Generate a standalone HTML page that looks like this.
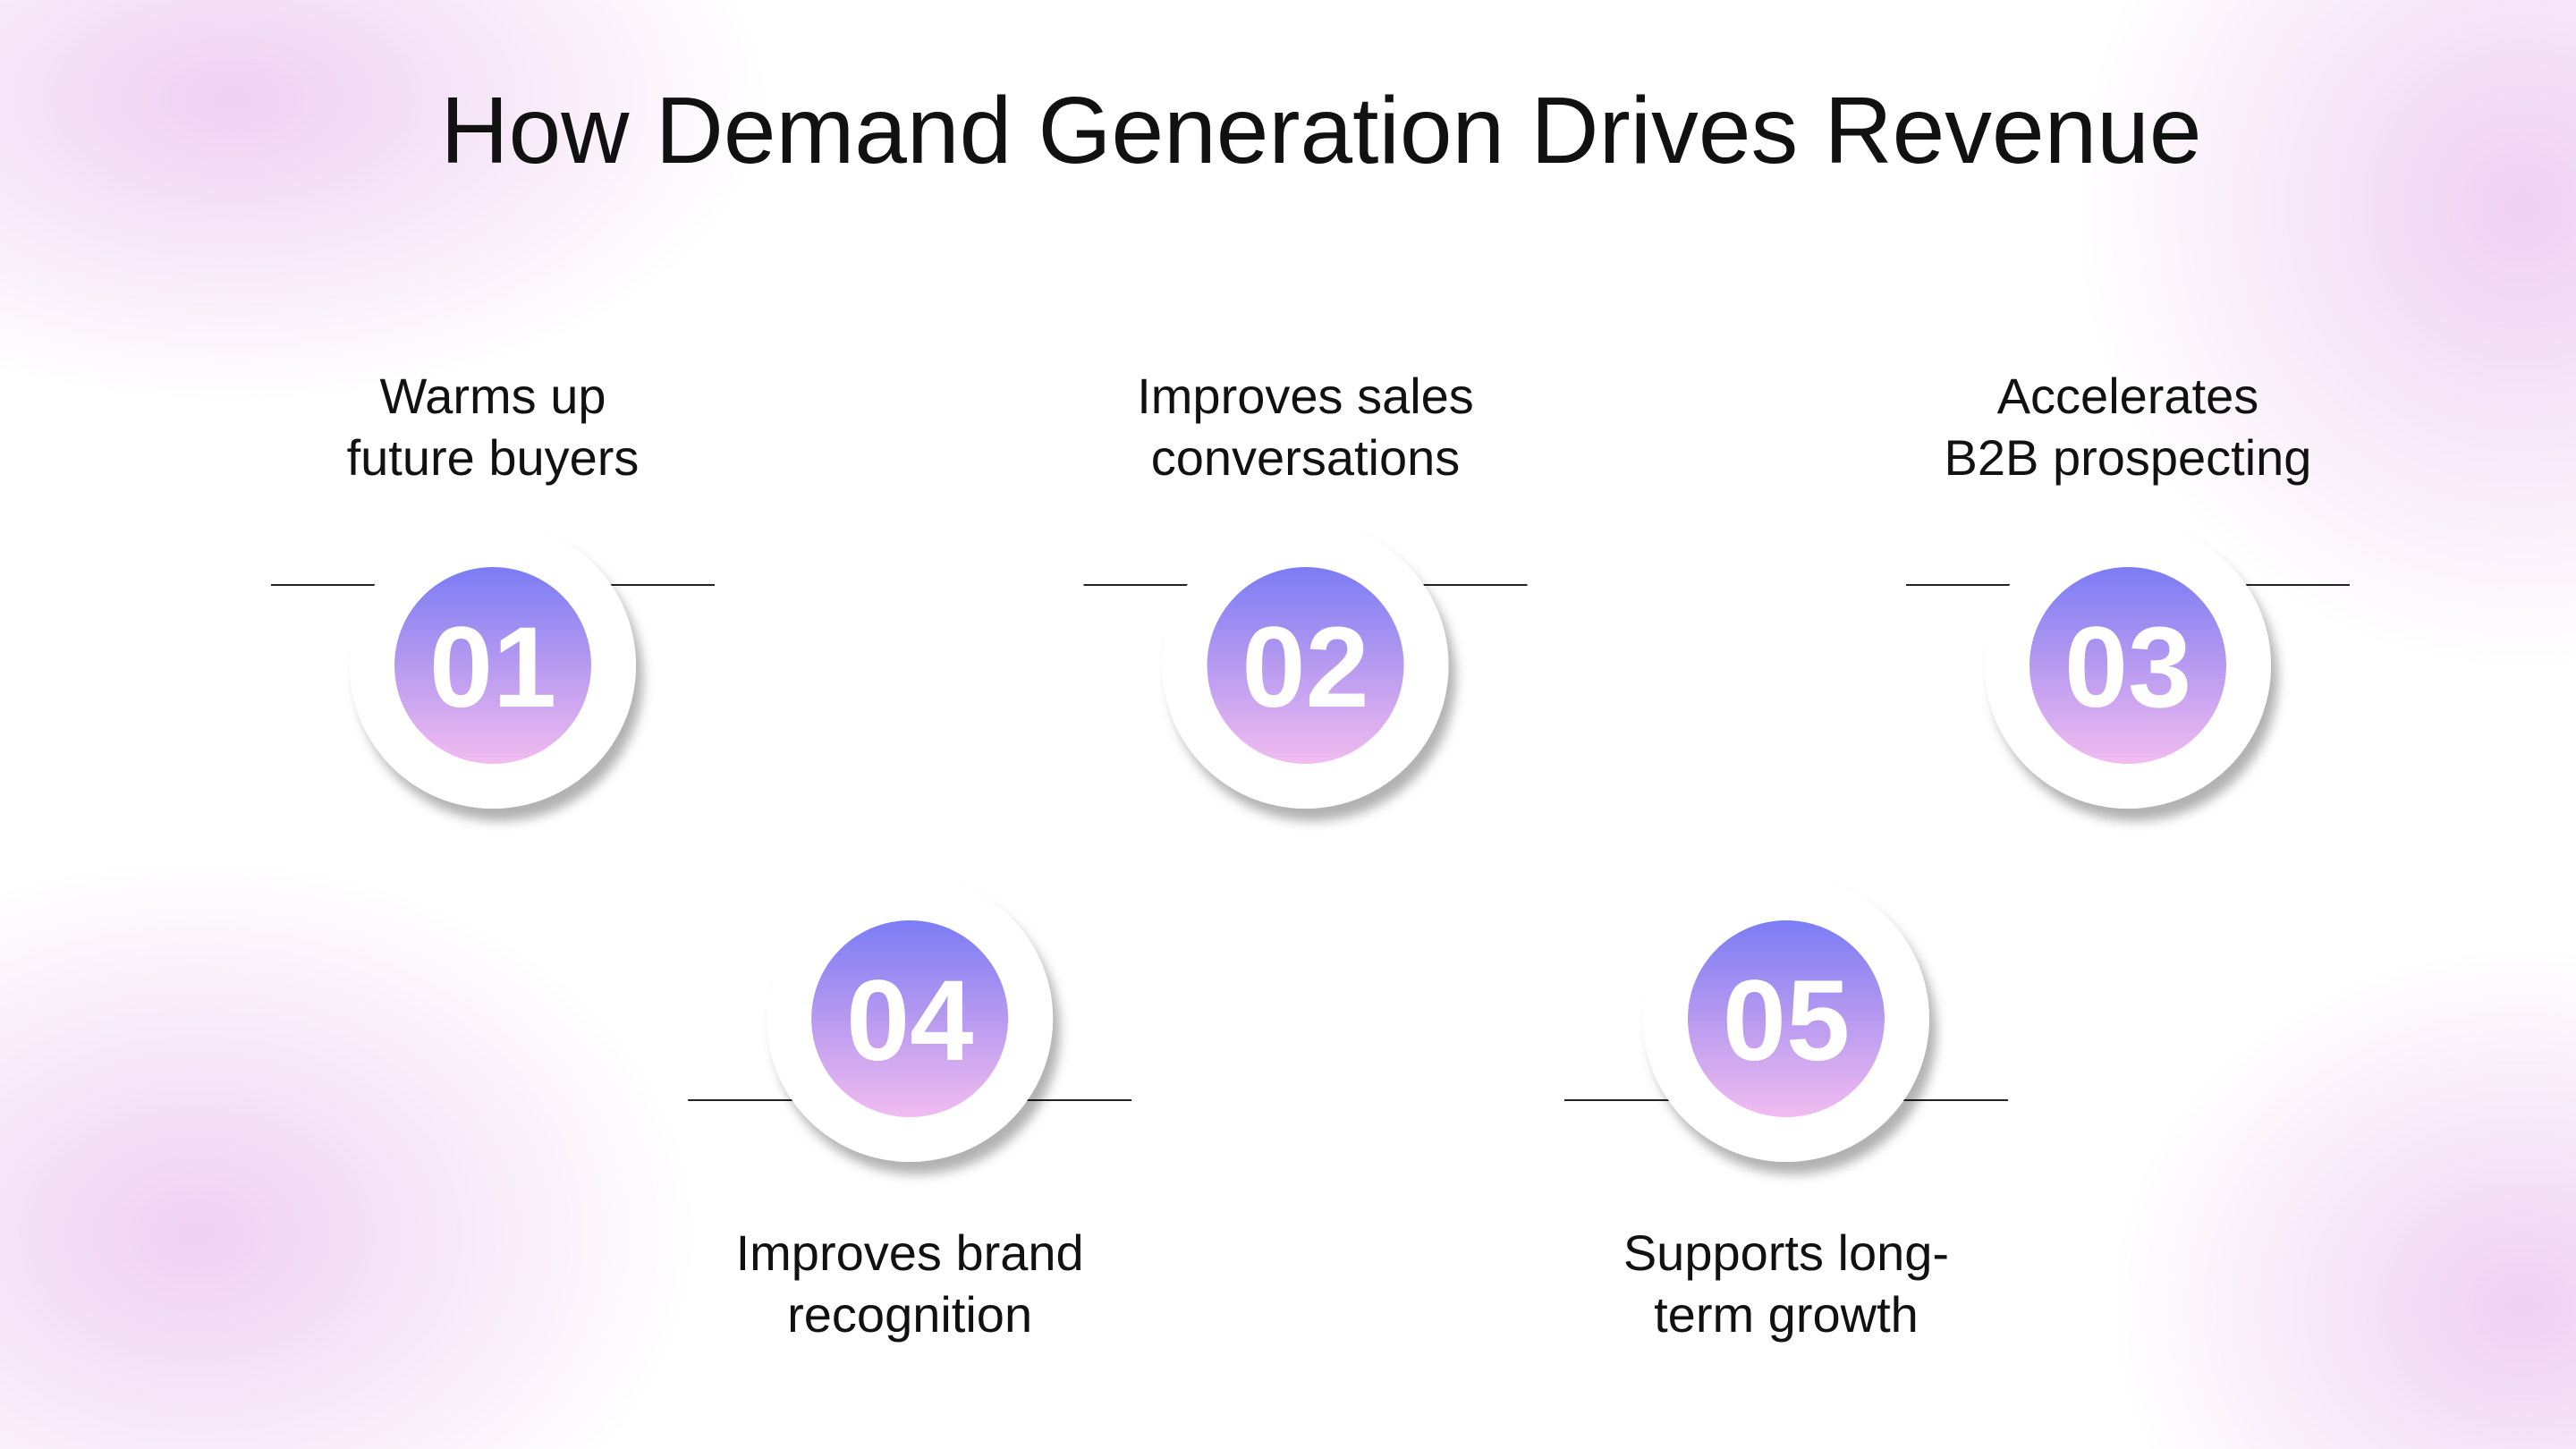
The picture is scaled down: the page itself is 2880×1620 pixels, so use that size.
<!DOCTYPE html>
<html><head><meta charset="utf-8"><style>
html,body{margin:0;padding:0;width:2880px;height:1620px;overflow:hidden;background:#fff}
svg{display:block;position:absolute;left:0;top:0}
text{font-family:"Liberation Sans",sans-serif}
</style></head><body>
<svg id="chart" width="2880" height="1620" viewBox="0 0 2880 1620" xmlns="http://www.w3.org/2000/svg">
<defs>
<radialGradient id="bg1" cx="0.5" cy="0.5" r="0.5"><stop offset="0" stop-color="#ecc9f0" stop-opacity="0.85"/><stop offset="1" stop-color="#ecc9f0" stop-opacity="0"/></radialGradient>
<linearGradient id="num" x1="0" y1="0" x2="0" y2="1"><stop offset="0" stop-color="#7b7cf4"/><stop offset="0.5" stop-color="#b79af0"/><stop offset="1" stop-color="#f1bcf0"/></linearGradient>
<filter id="sh" x="-30%" y="-30%" width="160%" height="160%"><feDropShadow dx="8" dy="14" stdDeviation="6" flood-color="#000" flood-opacity="0.3"/></filter>
</defs>
<rect x="0" y="0" width="2880" height="1620" fill="#fff"/>
<ellipse cx="260" cy="110" rx="600" ry="340" fill="url(#bg1)"/>
<ellipse cx="2820" cy="230" rx="500" ry="520" fill="url(#bg1)"/>
<ellipse cx="220" cy="1380" rx="560" ry="420" fill="url(#bg1)"/>
<ellipse cx="2820" cy="1460" rx="460" ry="400" fill="url(#bg1)"/>
<text x="1477" y="182" text-anchor="middle" font-size="106" fill="#111" textLength="1969" lengthAdjust="spacingAndGlyphs">How Demand Generation Drives Revenue</text>
<g id="steps"></g>
</svg>
<script>
const stepNumbers = ["01","02","03","04","05"];
const stepLine1 = ["Warms up","Improves sales","Accelerates","Improves brand","Supports long-"];
const stepLine2 = ["future buyers","conversations","B2B prospecting","recognition","term growth"];
const stepRow = [0,0,0,1,1];
const stepCol = [0,0.994,2,0.51,1.582];
const NS="http://www.w3.org/2000/svg";
const g=document.getElementById('steps');
function cxOf(c){return 551 + c*914;}
function cyOf(r){return r===0?744:1139;}
function mk(t,a){const e=document.createElementNS(NS,t);for(const k in a)e.setAttribute(k,a[k]);return e;}
stepNumbers.forEach((n,i)=>{
  const cx=cxOf(stepCol[i]), cy=cyOf(stepRow[i]);
  const grp=mk('g',{});
  
  
  const ly = stepRow[i]===0? cy-90 : cy+91;
  const line=mk('line',{x1:cx-248,x2:cx+248,y1:ly,y2:ly,stroke:'#222','stroke-width':2});
  
  
  grp.appendChild(line);
  const outer=mk('circle',{cx:cx,cy:cy,r:160,fill:'#fff',filter:'url(#sh)'});
  
  
  grp.appendChild(outer);
  const inner=mk('circle',{cx:cx,cy:cy,r:110,fill:'url(#num)'});
  
  
  grp.appendChild(inner);
  const num=mk('text',{x:cx,y:cy+46,'text-anchor':'middle','font-size':128,'font-weight':'bold',fill:'#fff'});
  num.textContent=n;
  
  
  grp.appendChild(num);
  const y1 = stepRow[i]===0? 462 : 1420;
  const t1=mk('text',{x:cx,y:y1,'text-anchor':'middle','font-size':56,fill:'#111'});
  t1.textContent=stepLine1[i];
  
  
  grp.appendChild(t1);
  const t2=mk('text',{x:cx,y:y1+69,'text-anchor':'middle','font-size':56,fill:'#111'});
  t2.textContent=stepLine2[i];
  
  
  grp.appendChild(t2);
  g.appendChild(grp);
});
</script>
</body></html>
